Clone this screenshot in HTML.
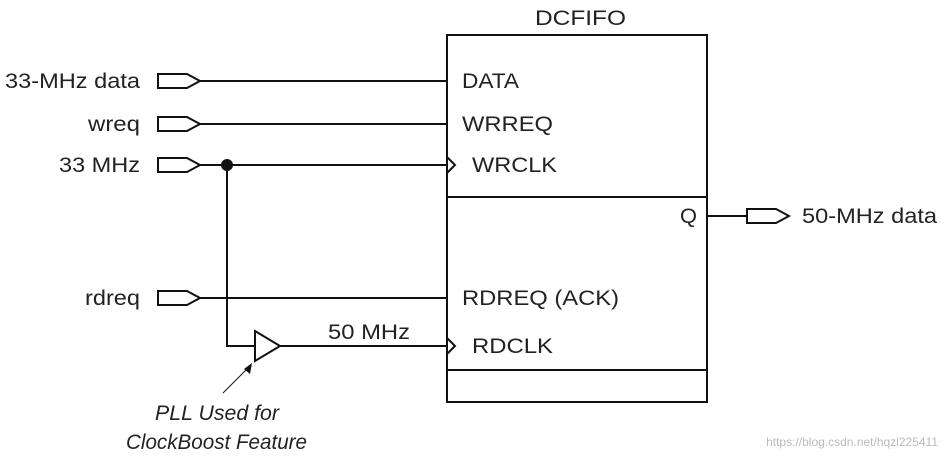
<!DOCTYPE html>
<html><head><style>body{margin:0;background:#fff}svg{display:block}text{font-family:"Liberation Sans",sans-serif;font-size:21px;fill:#222}</style></head><body>
<svg width="945" height="463" viewBox="0 0 945 463" xmlns="http://www.w3.org/2000/svg">
<g fill="none" stroke="#111" stroke-width="2">
<rect x="447" y="35" width="260" height="367"/>
<line x1="447" y1="197" x2="707" y2="197"/>
<line x1="447" y1="370" x2="707" y2="370"/>
<path d="M158 74h29l13 7l-13 7h-29z"/>
<path d="M158 117h29l13 7l-13 7h-29z"/>
<path d="M158 158h29l13 7l-13 7h-29z"/>
<path d="M158 291h29l13 7l-13 7h-29z"/>
<path d="M747 209h29l13 7l-13 7h-29z"/>
<line x1="200" y1="81" x2="447" y2="81"/>
<line x1="200" y1="124" x2="447" y2="124"/>
<line x1="200" y1="165" x2="447" y2="165"/>
<line x1="200" y1="298" x2="447" y2="298"/>
<line x1="707" y1="216" x2="747" y2="216"/>
<path d="M227 165V346H255"/>
<path d="M255 331L280 346L255 361Z"/>
<line x1="280" y1="346" x2="447" y2="346"/>
<path d="M447 157l8 8l-8 8"/>
<path d="M447 338l8 8l-8 8"/>
</g>
<circle cx="227" cy="165" r="6" fill="#111"/>
<line x1="223" y1="393" x2="248" y2="368" stroke="#111" stroke-width="1"/>
<path d="M252 363L250 374L244 369Z" fill="#111"/>
<g lengthAdjust="spacingAndGlyphs">
<text x="535" y="25" textLength="91" lengthAdjust="spacingAndGlyphs">DCFIFO</text>
<text x="5" y="88" textLength="135" lengthAdjust="spacingAndGlyphs">33-MHz data</text>
<text x="88" y="131" textLength="52" lengthAdjust="spacingAndGlyphs">wreq</text>
<text x="59" y="172" textLength="81" lengthAdjust="spacingAndGlyphs">33 MHz</text>
<text x="85" y="305" textLength="55" lengthAdjust="spacingAndGlyphs">rdreq</text>
<text x="462" y="88" textLength="57" lengthAdjust="spacingAndGlyphs">DATA</text>
<text x="462" y="131" textLength="91" lengthAdjust="spacingAndGlyphs">WRREQ</text>
<text x="472" y="172" textLength="85" lengthAdjust="spacingAndGlyphs">WRCLK</text>
<text x="680" y="223" textLength="17" lengthAdjust="spacingAndGlyphs">Q</text>
<text x="802" y="223" textLength="135" lengthAdjust="spacingAndGlyphs">50-MHz data</text>
<text x="462" y="305" textLength="157" lengthAdjust="spacingAndGlyphs">RDREQ (ACK)</text>
<text x="472" y="353" textLength="81" lengthAdjust="spacingAndGlyphs">RDCLK</text>
<text x="328" y="339" textLength="82" lengthAdjust="spacingAndGlyphs">50 MHz</text>
<text x="155" y="420" font-style="italic" textLength="124" lengthAdjust="spacingAndGlyphs">PLL Used for</text>
<text x="126" y="449" font-style="italic" textLength="181" lengthAdjust="spacingAndGlyphs">ClockBoost Feature</text>
</g>
<text x="938" y="446" text-anchor="end" style="font-size:12px;fill:#bbb">https://blog.csdn.net/hqzl225411</text>
</svg>
</body></html>
